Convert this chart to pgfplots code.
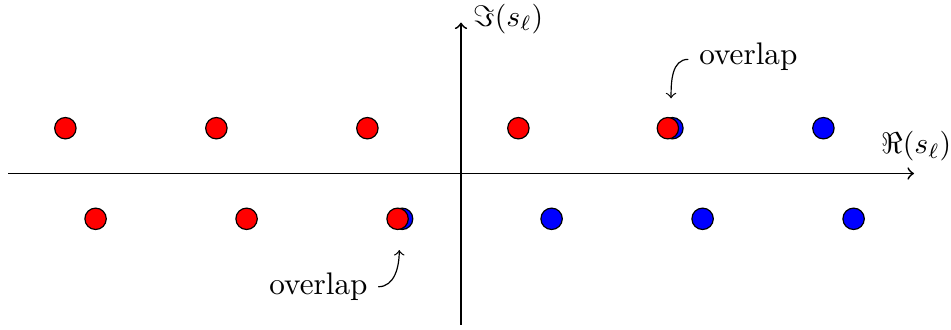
\documentclass[border=0pt]{standalone}
\usepackage{pgfplots}
\pgfplotsset{compat=1.18}
\begin{document}
\begin{tikzpicture}
\begin{axis}[
  x=50.8pt, y=50.8pt,
  axis lines=middle,
  axis line style={->, line width=0.6pt},
  xmin=-3, xmax=3, ymin=-1, ymax=1,
  xtick=\empty, ytick=\empty,
  clip=false,
]
\addplot[only marks, mark=*, mark size=3.6pt, mark options={fill=blue, draw=black, line width=0.4pt}]
  coordinates {(1.40,0.3) (2.40,0.3) (-0.39,-0.3) (0.60,-0.3) (1.60,-0.3) (2.60,-0.3)};
\addplot[only marks, mark=*, mark size=3.6pt, mark options={fill=red, draw=black, line width=0.4pt}]
  coordinates {(-2.62,0.3) (-1.62,0.3) (-0.62,0.3) (0.38,0.3) (1.37,0.3)
               (-2.42,-0.3) (-1.42,-0.3) (-0.42,-0.3)};
\node[anchor=south] at (axis cs:3.015,0.012) {$\Re(s_\ell)$};
\node at (axis cs:0.313,1.023) {$\Im(s_\ell)$};
\node[font=\fontsize{10.5}{12}\selectfont] at (axis cs:1.903,0.776) {overlap};
\draw[->] (axis cs:1.505,0.756) to[out=180,in=90] (axis cs:1.391,0.498);
\node[font=\fontsize{10.5}{12}\selectfont] at (axis cs:-0.944,-0.75) {overlap};
\draw[->] (axis cs:-0.548,-0.750) to[out=0,in=-90] (axis cs:-0.409,-0.507);
\coordinate (bbl) at (axis cs:-3.053,-1.030);
\coordinate (btr) at (axis cs:3.245,1.149);
\end{axis}
\pgfresetboundingbox
\path[use as bounding box] (bbl) rectangle (btr);
\end{tikzpicture}
\end{document}
